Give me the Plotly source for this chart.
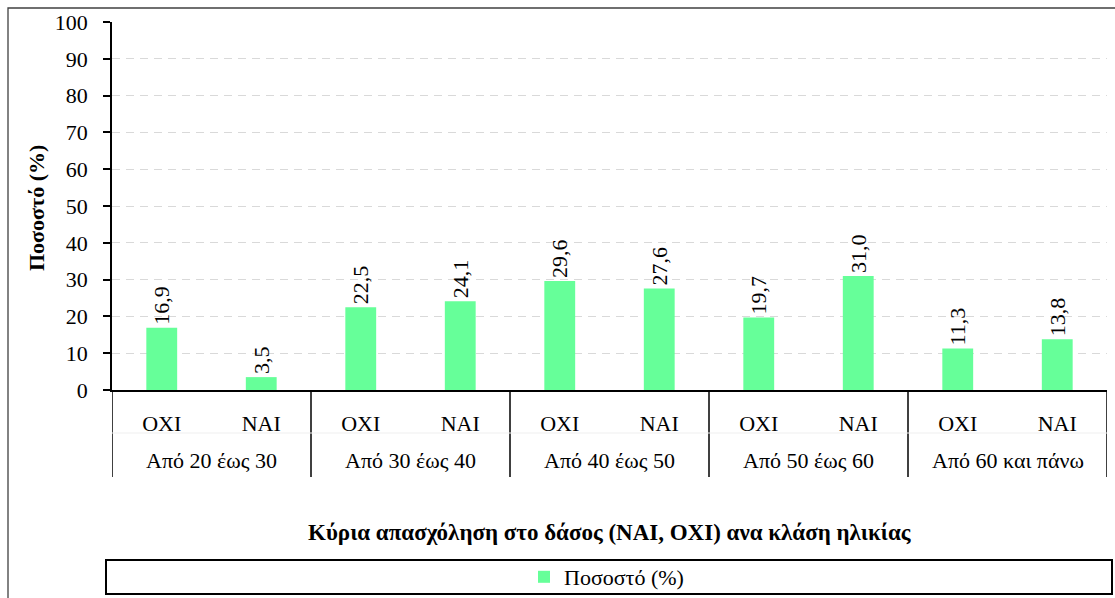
import plotly.graph_objects as go

# Age classes and the answer to "main occupation in the forest"
age_groups = ["Από 20 έως 30", "Από 30 έως 40", "Από 40 έως 50", "Από 50 έως 60", "Από 60 και πάνω"]
answers = ["ΟΧΙ", "ΝΑΙ"]
pct_oxi = [16.9, 22.5, 29.6, 19.7, 11.3]
pct_nai = [3.5, 24.1, 27.6, 31.0, 13.8]
y_ticks = list(range(0, 101, 10))

series_name = "Ποσοστό (%)"
x_title = "Κύρια απασχόληση στο δάσος (NAI, OXI) ανα κλάση ηλικίας"
y_title = "Ποσοστό (%)"

# Flatten into one category per bar, grouped by age class
values = []
sub_labels = []
for i in range(len(age_groups)):
    values += [pct_oxi[i], pct_nai[i]]
    sub_labels += answers
positions = list(range(len(values)))
value_text = [f"{v:.1f}".replace(".", ",") for v in values]

W, H = 1115, 598
L, R, T, B = 112, 8, 22, 208
PW, PH = W - L - R, H - T - B

def px_x(p):
    return (p - L) / PW

def px_y(p):
    return (T + PH - p) / PH

FONT = "Liberation Serif"
FS = 22
FS_TITLE = 23

fig = go.Figure()
fig.add_trace(go.Bar(
    x=positions, y=values, name=series_name,
    marker=dict(color="#66FF99", line=dict(width=0)),
    text=value_text, textposition="outside", textangle=-90,
    textfont=dict(family=FONT, size=FS, color="black"),
    constraintext="none", cliponaxis=False,
    showlegend=True,
))

n_per_group = len(answers)
shapes = []
annotations = []

# Vertical dividers of the two-level category table
for k in range(len(age_groups) + 1):
    xv = -0.5 + k * n_per_group
    shapes.append(dict(type="line", xref="x", yref="paper",
                       x0=xv, x1=xv, y0=0, y1=px_y(477),
                       line=dict(color="black", width=1.5)))

# Faint separator between the two label rows
shapes.append(dict(type="line", xref="paper", yref="paper",
                   x0=0, x1=1, y0=px_y(433), y1=px_y(433),
                   line=dict(color="#efefef", width=1)))

# Age class labels
for k, g in enumerate(age_groups):
    xc = k * n_per_group + (n_per_group - 1) / 2
    annotations.append(dict(x=xc, y=px_y(461), xref="x", yref="paper",
                            text=g, showarrow=False, yanchor="middle",
                            font=dict(family=FONT, size=FS, color="black")))

# Axis titles
annotations.append(dict(x=0.5, y=px_y(532), xref="paper", yref="paper",
                        text=f"<b>{x_title}</b>", showarrow=False,
                        yanchor="middle", xanchor="center",
                        font=dict(family=FONT, size=FS_TITLE, color="black")))
annotations.append(dict(x=px_x(36), y=px_y(208), xref="paper", yref="paper",
                        text=f"<b>{y_title}</b>", showarrow=False, textangle=-90,
                        yanchor="middle", xanchor="center",
                        font=dict(family=FONT, size=FS, color="black")))

# Legend frame
shapes.append(dict(type="rect", xref="paper", yref="paper",
                   x0=px_x(106), x1=px_x(1112), y0=px_y(560), y1=px_y(594),
                   line=dict(color="black", width=2)))

# Outer chart border
shapes.append(dict(type="rect", xref="paper", yref="paper",
                   x0=px_x(8), x1=px_x(1130), y0=px_y(8), y1=px_y(612),
                   line=dict(color="#404040", width=1.3)))

fig.update_layout(
    width=W, height=H,
    margin=dict(l=L, r=R, t=T, b=B, autoexpand=False),
    paper_bgcolor="white", plot_bgcolor="white",
    font=dict(family=FONT, size=FS, color="black"),
    bargap=0.69,
    shapes=shapes,
    annotations=annotations,
    legend=dict(orientation="h", x=px_x(524), xanchor="left",
                y=px_y(577), yanchor="middle",
                font=dict(family=FONT, size=FS, color="black"),
                bgcolor="rgba(0,0,0,0)"),
    xaxis=dict(
        range=[-0.5, len(values) - 0.5],
        tickmode="array", tickvals=positions, ticktext=sub_labels,
        ticks="", showgrid=False, zeroline=False,
        showline=True, linecolor="black", linewidth=1.5,
        ticklabelstandoff=13,
        tickfont=dict(family=FONT, size=FS, color="black"),
    ),
    yaxis=dict(
        range=[0, 100], tickmode="array", tickvals=y_ticks,
        ticks="outside", ticklen=7, tickwidth=1.5, tickcolor="black",
        showline=True, linecolor="black", linewidth=1.5,
        showgrid=True, gridcolor="#d9d9d9", gridwidth=1.3, griddash="8px,6px",
        zeroline=False, ticklabelstandoff=11,
        tickfont=dict(family=FONT, size=FS, color="black"),
    ),
)

fig.write_html("out.html")
